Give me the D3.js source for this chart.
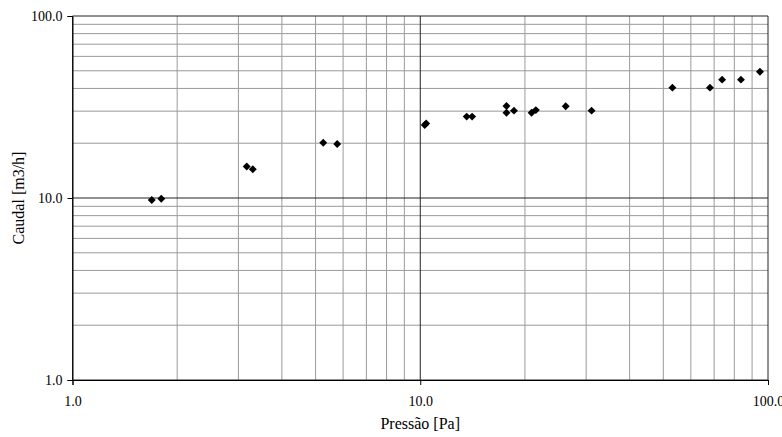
<html>
<head>
<meta charset="utf-8">
<style>
  body { margin: 0; background: #fff; }
</style>
</head>
<body>
<script src="https://d3js.org/d3.v7.min.js"></script>
<div id="chart"></div>
<script>
// measured points: pressure [Pa] and flow [m3/h]
var pressao = [1.69, 1.80, 3.17, 3.30, 5.26, 5.77, 10.3, 10.4, 13.6, 14.1, 17.7, 17.7, 18.6, 20.9, 21.5, 26.2, 31.1, 53.1, 68.1, 73.8, 83.6, 94.8];
var caudal  = [9.75, 9.9, 14.9, 14.4, 20.1, 19.8, 25.2, 25.7, 28.0, 28.0, 32.0, 29.4, 30.2, 29.4, 30.4, 31.9, 30.2, 40.4, 40.4, 44.7, 44.7, 49.4];
var tickValues = [1, 10, 100];

var FONT = "'Liberation Serif', 'Times New Roman', Tinos, serif";
var W = 782, H = 437;
var margin = {top: 16, right: 14, bottom: 57, left: 72.5};
var width = W - margin.left - margin.right,
    height = H - margin.top - margin.bottom;

var svg = d3.select("#chart").append("svg")
    .attr("width", W).attr("height", H)
    .style("font-family", FONT)
  .append("g")
    .attr("transform", "translate(" + margin.left + "," + margin.top + ")");

var x = d3.scaleLog().domain([1, 100]).range([0, width]);
var y = d3.scaleLog().domain([1, 100]).range([height, 0]);

// minor gridlines
var minor = [];
[1, 10].forEach(function(d) { for (var k = 2; k <= 9; k++) minor.push(d * k); });

svg.selectAll(".vminor").data(minor).enter().append("line")
    .attr("x1", function(d) { return x(d); }).attr("x2", function(d) { return x(d); })
    .attr("y1", 0).attr("y2", height)
    .attr("stroke", "#9a9a9a").attr("stroke-width", 1);
svg.selectAll(".hminor").data(minor).enter().append("line")
    .attr("y1", function(d) { return y(d); }).attr("y2", function(d) { return y(d); })
    .attr("x1", 0).attr("x2", width)
    .attr("stroke", "#9a9a9a").attr("stroke-width", 1);

// major gridlines
svg.selectAll(".vmajor").data(tickValues).enter().append("line")
    .attr("x1", function(d) { return x(d); }).attr("x2", function(d) { return x(d); })
    .attr("y1", 0).attr("y2", height)
    .attr("stroke", "#222").attr("stroke-width", 1);
svg.selectAll(".hmajor").data(tickValues).enter().append("line")
    .attr("y1", function(d) { return y(d); }).attr("y2", function(d) { return y(d); })
    .attr("x1", 0).attr("x2", width)
    .attr("stroke", "#222").attr("stroke-width", 1);

// axes
var xAxis = svg.append("g")
    .attr("transform", "translate(0," + height + ")")
    .call(d3.axisBottom(x).tickValues(tickValues).tickSize(5).tickPadding(11)
        .tickFormat(d3.format(".1f")));
var yAxis = svg.append("g")
    .call(d3.axisLeft(y).tickValues(tickValues).tickSize(5).tickPadding(5)
        .tickFormat(d3.format(".1f")));
[xAxis, yAxis].forEach(function(a) {
  a.attr("font-family", FONT).attr("font-size", 14);
  a.select(".domain").attr("stroke", "#000");
  a.selectAll(".tick line").attr("stroke", "#000");
  a.selectAll("text").attr("fill", "#000");
});

// points
svg.selectAll(".pt").data(pressao).enter().append("path")
    .attr("d", d3.symbol().type(d3.symbolDiamond2).size(40))
    .attr("transform", function(d, i) {
      return "translate(" + x(d) + "," + y(caudal[i]) + ")";
    })
    .attr("fill", "#000");

// labels
svg.append("text")
    .attr("x", width / 2).attr("y", height + 49)
    .attr("text-anchor", "middle").attr("font-size", 16)
    .text("Pressão [Pa]");
svg.append("text")
    .attr("transform", "translate(" + (-49) + "," + (height / 2) + ") rotate(-90)")
    .attr("text-anchor", "middle").attr("font-size", 16)
    .text("Caudal [m3/h]");
</script>
</body>
</html>
